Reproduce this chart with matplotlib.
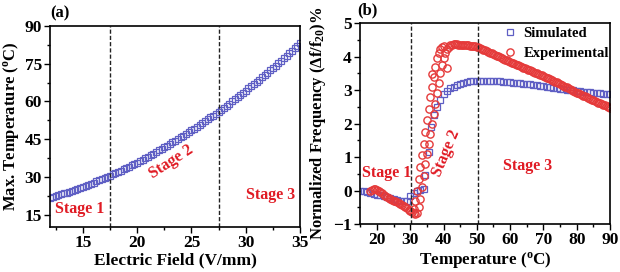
import matplotlib
matplotlib.use("Agg")
import matplotlib.pyplot as plt
from matplotlib.ticker import MultipleLocator

plt.rcParams['font.family'] = ['Liberation Serif', 'DejaVu Serif']
plt.rcParams['font.weight'] = 'bold'
plt.rcParams['mathtext.fontset'] = 'custom'
plt.rcParams['mathtext.rm'] = 'Liberation Serif:bold'
plt.rcParams['mathtext.bf'] = 'Liberation Serif:bold'
plt.rcParams['mathtext.it'] = 'Liberation Serif:bold'

# (a) max temperature vs electric field
field = [12 + 0.25 * i for i in range(93)]
max_temp = [21.7, 22.0, 22.4, 22.7, 23.0, 23.4, 23.7, 24.1, 24.5, 24.9,
            25.2, 25.6, 26.0, 26.5, 26.9, 27.3, 27.7, 28.2, 28.6, 29.1,
            29.6, 30.0, 30.5, 31.0, 31.5, 32.0, 32.5, 33.0, 33.6, 34.1,
            34.6, 35.2, 35.7, 36.3, 36.9, 37.4, 38.0, 38.6, 39.2, 39.8,
            40.5, 41.1, 41.7, 42.4, 43.0, 43.7, 44.3, 45.0, 45.7, 46.4,
            47.1, 47.8, 48.5, 49.2, 49.9, 50.7, 51.4, 52.2, 52.9, 53.7,
            54.4, 55.2, 56.0, 56.8, 57.6, 58.4, 59.2, 60.1, 60.9, 61.7,
            62.6, 63.4, 64.3, 65.2, 66.1, 66.9, 67.8, 68.7, 69.6, 70.6,
            71.5, 72.4, 73.4, 74.3, 75.3, 76.2, 77.2, 78.2, 79.2, 80.2,
            81.2, 82.2, 83.2]
field_stages = [17.5, 27.5]

# (b) normalized frequency vs temperature
sim_temp = [15, 16, 17, 18, 19, 20, 21, 22, 23, 24, 25, 26, 27, 28, 29, 30,
            31, 32, 33, 34, 34.5, 35.5, 36.2, 37, 38, 39, 40, 41, 42, 43, 44,
            45, 46, 47, 48, 49, 50, 51, 52, 53, 54, 55, 56, 57, 58, 59, 60,
            61, 62, 63, 64, 65, 66, 67, 68, 69, 70, 71, 72, 73, 74, 75, 76,
            77, 78, 79, 80, 81, 82, 83, 84, 85, 86, 87, 88, 89, 90]
sim_freq = [0.00, -0.02, -0.04, -0.07, -0.09, -0.12, -0.14, -0.17, -0.20,
            -0.23, -0.25, -0.28, -0.30, -0.32, -0.30, -0.15, -0.06, 0.00,
            0.02, 0.05, 0.46, 1.16, 1.90, 2.25, 2.50, 2.72, 2.88, 2.98, 3.05,
            3.10, 3.15, 3.19, 3.22, 3.25, 3.27, 3.28, 3.28, 3.28, 3.28, 3.28,
            3.28, 3.27, 3.27, 3.26, 3.25, 3.24, 3.23, 3.22, 3.21, 3.20, 3.19,
            3.18, 3.17, 3.16, 3.15, 3.13, 3.12, 3.10, 3.09, 3.07, 3.06, 3.04,
            3.03, 3.01, 3.00, 2.99, 2.97, 2.96, 2.95, 2.94, 2.93, 2.92, 2.91,
            2.90, 2.89, 2.88, 2.87]

exp_temp = [18.0, 18.5, 19.0, 19.5, 20.0, 20.5, 21.0, 21.5, 22.0, 22.5,
            23.0, 23.5, 24.0, 24.5, 25.0, 25.5, 26.0, 26.5, 27.0, 27.5,
            28.0, 28.5, 29.0, 29.5, 30.0, 30.5, 31.0, 31.5,
            # heating branch
            32.0, 32.5, 33.0, 33.5, 34.0, 34.5, 35.0, 35.5, 36.0, 36.5,
            37.0, 37.5, 38.0, 38.5, 39.0, 39.5, 40.0, 40.5, 41.0, 41.5, 42.0,
            # second branch
            31.0, 31.5, 32.0, 32.5, 33.0, 33.5, 34.0, 34.5, 35.0, 35.5,
            36.0, 36.5, 37.0, 37.5, 38.0, 38.5, 39.0, 39.5, 40.0,
            # outliers
            36.5, 41.0,
            42.5, 43.0, 43.5, 44.0, 44.5, 45.0, 45.5, 46.0, 46.5, 47.0,
            47.5, 48.0, 48.5, 49.0, 49.5, 50.0,
            50.5, 51.0, 51.5, 52.0, 52.5, 53.0, 53.5, 54.0, 54.5, 55.0,
            55.5, 56.0, 56.5, 57.0, 57.5, 58.0, 58.5, 59.0, 59.5, 60.0,
            60.5, 61.0, 61.5, 62.0, 62.5, 63.0, 63.5, 64.0, 64.5, 65.0,
            65.5, 66.0, 66.5, 67.0, 67.5, 68.0, 68.5, 69.0, 69.5, 70.0,
            70.5, 71.0, 71.5, 72.0, 72.5, 73.0, 73.5, 74.0, 74.5, 75.0,
            75.5, 76.0, 76.5, 77.0, 77.5, 78.0, 78.5, 79.0, 79.5, 80.0,
            80.5, 81.0, 81.5, 82.0, 82.5, 83.0, 83.5, 84.0, 84.5, 85.0,
            85.5, 86.0, 86.5, 87.0, 87.5, 88.0, 88.5, 89.0, 89.5, 90.0]
exp_freq = [0.00, 0.03, 0.05, 0.05, 0.03, 0.00, -0.04, -0.08, -0.12, -0.15,
            -0.18, -0.21, -0.24, -0.27, -0.30, -0.32, -0.35, -0.37, -0.40, -0.43,
            -0.46, -0.49, -0.53, -0.57, -0.61, -0.65, -0.68, -0.70,
            -0.68, -0.50, -0.25, 0.10, 0.45, 0.80, 1.10, 1.40, 1.70, 2.00,
            2.30, 2.60, 2.90, 3.20, 3.50, 3.75, 3.95, 4.10, 4.22, 4.30, 4.34,
            -0.55, -0.30, 0.00, 0.35, 0.70, 1.05, 1.40, 1.75, 2.10, 2.45,
            2.80, 3.10, 3.40, 3.70, 3.95, 4.12, 4.22, 4.28, 4.32,
            3.48, 3.65,
            4.36, 4.37, 4.37, 4.37, 4.36, 4.36, 4.36, 4.35, 4.35, 4.34,
            4.34, 4.33, 4.33, 4.32, 4.31, 4.30,
            4.28, 4.25, 4.23, 4.21, 4.19, 4.17, 4.15, 4.12, 4.10, 4.08,
            4.05, 4.03, 4.01, 3.98, 3.96, 3.93, 3.91, 3.89, 3.86, 3.84,
            3.82, 3.80, 3.78, 3.76, 3.74, 3.72, 3.70, 3.67, 3.65, 3.63,
            3.61, 3.59, 3.57, 3.55, 3.52, 3.50, 3.48, 3.46, 3.44, 3.42,
            3.40, 3.37, 3.35, 3.32, 3.30, 3.28, 3.25, 3.23, 3.20, 3.18,
            3.15, 3.13, 3.10, 3.08, 3.05, 3.02, 3.00, 2.97, 2.95, 2.92,
            2.90, 2.88, 2.86, 2.83, 2.81, 2.79, 2.77, 2.74, 2.72, 2.70,
            2.68, 2.66, 2.63, 2.61, 2.59, 2.57, 2.55, 2.52, 2.50, 2.48]
temp_stages = [30.3, 50.3]

blue = '#5f5fc4'
red = '#e53a3a'
stage_red = '#e01b24'

fig = plt.figure(figsize=(6.2, 2.72), dpi=100)
ax1 = fig.add_axes([0.081, 0.165, 0.403, 0.739])
ax2 = fig.add_axes([0.581, 0.176, 0.403, 0.739])

# ---- panel (a)
ax1.plot(field, max_temp, 's', ms=4.3, mfc='none', mec=blue, mew=0.9)
for xv in field_stages:
    ax1.axvline(xv, color='#222222', ls='--', lw=1.0, dashes=(3, 1.5))
ax1.set_xlim(12, 35)
ax1.set_ylim(10, 90)
ax1.xaxis.set_major_locator(MultipleLocator(5))
ax1.xaxis.set_minor_locator(MultipleLocator(2.5))
ax1.yaxis.set_major_locator(MultipleLocator(15))
ax1.yaxis.set_minor_locator(MultipleLocator(7.5))
ax1.set_xlabel('Electric Field (V/mm)', fontsize=12.5, fontweight='bold', labelpad=1)
ax1.set_ylabel(r'Max. Temperature ($^\mathrm{o}$C)', fontsize=12,
               fontweight='bold')
ax1.yaxis.set_label_coords(-0.118, 0.5)
ax1.text(12.4, 17.4, 'Stage 1', color=stage_red, fontsize=11.5,
         fontweight='bold', ha='left', va='center')
ax1.text(23.1, 36.0, 'Stage 2', color=stage_red, fontsize=11.5,
         fontweight='bold', ha='center', va='center', rotation=33)
ax1.text(30.0, 22.6, 'Stage 3', color=stage_red, fontsize=11.5,
         fontweight='bold', ha='left', va='center')

# ---- panel (b)
ax2.plot(sim_temp, sim_freq, 's', ms=4.3, mfc='none', mec=blue, mew=0.9,
         label='Simulated')
ax2.plot(exp_temp, exp_freq, 'o', ms=5.2, mfc='none', mec=red, mew=1.0,
         label='Experimental')
for xv in temp_stages:
    ax2.axvline(xv, color='#222222', ls='--', lw=1.0, dashes=(3, 1.5))
ax2.set_xlim(15, 90)
ax2.set_ylim(-1, 5)
ax2.xaxis.set_major_locator(MultipleLocator(10))
ax2.xaxis.set_minor_locator(MultipleLocator(5))
ax2.yaxis.set_major_locator(MultipleLocator(1))
ax2.yaxis.set_minor_locator(MultipleLocator(0.5))
ax2.set_xlabel(r'Temperature ($^\mathrm{o}$C)', fontsize=12.3, fontweight='bold',
               labelpad=1)
ax2.set_ylabel(r'Normalized Frequency ($\Delta$f/f$_\mathrm{20}$)%', fontsize=12,
               fontweight='bold')
ax2.yaxis.set_label_coords(-0.128, 0.5)
ax2.text(15.6, 0.52, 'Stage 1', color=stage_red, fontsize=11.5,
         fontweight='bold', ha='left', va='center')
ax2.text(40.7, 1.11, 'Stage 2', color=stage_red, fontsize=11.5,
         fontweight='bold', ha='center', va='center', rotation=67)
ax2.text(58.0, 0.74, 'Stage 3', color=stage_red, fontsize=11.5,
         fontweight='bold', ha='left', va='center')
ax2.legend(loc='upper left', bbox_to_anchor=(0.555, 1.0), frameon=False,
           fontsize=10.5, handlelength=1.0, handletextpad=0.45,
           labelspacing=0.45, borderpad=0.25, borderaxespad=0)

for ax in (ax1, ax2):
    for sp in ax.spines.values():
        sp.set_linewidth(1.2)
    ax.tick_params(which='major', direction='out', length=4, width=1.0,
                   labelsize=12.5, pad=2)
    ax.tick_params(which='minor', direction='out', length=2, width=1.0)
    for lab in ax.get_xticklabels() + ax.get_yticklabels():
        lab.set_fontweight('bold')

fig.text(0.081, 0.952, '(a)', fontsize=12, fontweight='bold', ha='left',
         va='center')
fig.text(0.577, 0.963, '(b)', fontsize=12, fontweight='bold', ha='left',
         va='center')

fig.savefig('out.png', dpi=100)
